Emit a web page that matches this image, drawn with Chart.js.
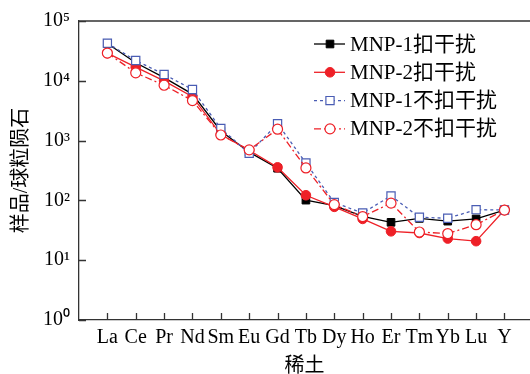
<!DOCTYPE html>
<html>
<head>
<meta charset="utf-8">
<script src="https://cdn.jsdelivr.net/npm/chart.js@4/dist/chart.umd.min.js"></script>
<style>
  html, body { margin: 0; padding: 0; background: #fff; }
  #wrap { width: 530px; height: 374px; }
</style>
</head>
<body>
<div id="wrap"><canvas id="c" width="530" height="374"></canvas></div>
<script>
// ---- data ----
const categories = ['La','Ce','Pr','Nd','Sm','Eu','Gd','Tb','Dy','Ho','Er','Tm','Yb','Lu','Y'];
const mnp1Sub   = [42000, 20000, 11300, 6000, 1450, 640, 345, 101, 82, 54, 43, 50, 45, 49, 69];
const mnp2Sub   = [29000, 16900, 9960, 5430, 1260, 690, 357, 122, 78, 49, 30.4, 28.5, 23, 20.8, 69];
const mnp1NoSub = [42600, 21800, 12800, 7160, 1590, 615, 1920, 421, 92, 61.6, 119, 52.3, 50.3, 70, 69];
const mnp2NoSub = [29100, 13600, 8430, 4670, 1240, 700, 1550, 349, 85, 53.7, 90, 29.6, 27.9, 39.2, 69];
const seriesNames = ['MNP-1扣干扰', 'MNP-2扣干扰', 'MNP-1不扣干扰', 'MNP-2不扣干扰'];
const yTickValues = [1, 10, 100, 1000, 10000, 100000];
const yTitle = '样品/球粒陨石';
const xTitle = '稀土';

const FONT = "'Liberation Serif', 'Noto Sans CJK SC', serif";
const RED = '#ee2027';
const BLUE = '#4a5db4';
const AXIS = '#333333';
const sup = {0:'⁰',1:'¹',2:'²',3:'³',4:'⁴',5:'⁵'};

function pts(arr) { return arr.map((v, i) => ({ x: i + 1, y: v })); }

const datasets = [
  { label: seriesNames[0], data: pts(mnp1Sub), borderColor: '#000', backgroundColor: '#000',
    pointStyle: 'rect', pointRadius: 5.4, borderWidth: 1.3, pointBorderWidth: 1, order: 4 },
  { label: seriesNames[1], data: pts(mnp2Sub), borderColor: RED, backgroundColor: RED,
    pointStyle: 'circle', pointRadius: 4.8, borderWidth: 1.3, pointBorderWidth: 1, order: 3 },
  { label: seriesNames[2], data: pts(mnp1NoSub), borderColor: BLUE, backgroundColor: '#fff',
    pointStyle: 'rect', pointRadius: 5.8, borderWidth: 1.3, pointBorderWidth: 1.2, borderDash: [3, 3], order: 2 },
  { label: seriesNames[3], data: pts(mnp2NoSub), borderColor: RED, backgroundColor: '#fff',
    pointStyle: 'circle', pointRadius: 5, borderWidth: 1.3, pointBorderWidth: 1.2, borderDash: [7, 3, 2, 3], order: 1 }
];

// inward tick marks + top frame line
const frame = {
  id: 'frame',
  afterDraw(chart) {
    const ctx = chart.ctx, a = chart.chartArea;
    const xs = chart.scales.x, ys = chart.scales.y;
    ctx.save();
    ctx.strokeStyle = AXIS; ctx.lineWidth = 1.3; ctx.setLineDash([]);
    ctx.beginPath();
    ctx.moveTo(a.left, a.top); ctx.lineTo(chart.width, a.top);
    xs.ticks.forEach(t => {
      const px = Math.round(xs.getPixelForValue(t.value)) + 0.5;
      ctx.moveTo(px, a.bottom); ctx.lineTo(px, a.bottom - 7);
    });
    ys.ticks.forEach(t => {
      const py = Math.round(ys.getPixelForValue(t.value)) + 0.5;
      ctx.moveTo(a.left, py); ctx.lineTo(a.left + 7, py);
    });
    ctx.stroke();
    ctx.restore();
  }
};

// legend inside the plot, top right
const legendBox = {
  id: 'legendBox',
  afterDraw(chart) {
    const ctx = chart.ctx;
    const x0 = 314, x1 = 345, xm = 330, tx = 350, y0 = 44, dy = 28.3;
    chart.data.datasets.forEach((ds, i) => {
      const y = y0 + i * dy;
      ctx.save();
      ctx.strokeStyle = ds.borderColor; ctx.lineWidth = ds.borderWidth;
      ctx.setLineDash(ds.borderDash || []);
      ctx.beginPath(); ctx.moveTo(x0, y); ctx.lineTo(x1, y); ctx.stroke();
      ctx.setLineDash([]);
      ctx.fillStyle = ds.backgroundColor; ctx.lineWidth = ds.pointBorderWidth;
      Chart.helpers.drawPoint(ctx, { pointStyle: ds.pointStyle, radius: ds.pointRadius, rotation: 0, borderWidth: ds.pointBorderWidth }, xm, y);
      ctx.fillStyle = '#000';
      ctx.font = "21px " + FONT;
      ctx.textBaseline = 'middle'; ctx.textAlign = 'left';
      ctx.fillText(ds.label, tx, y + 1);
      ctx.restore();
    });
  }
};

new Chart(document.getElementById('c'), {
  type: 'line',
  data: { datasets },
  plugins: [frame, legendBox],
  options: {
    responsive: false,
    animation: false,
    layout: { padding: { top: 18, right: 0, left: 0, bottom: 0 }, autoPadding: false },
    plugins: { legend: { display: false }, tooltip: { enabled: false } },
    scales: {
      x: {
        type: 'linear', min: 0, max: 15.9,
        afterBuildTicks: s => { s.ticks = categories.map((c, i) => ({ value: i + 1 })); },
        afterFit: s => { s.height = 54; },
        grid: { display: true, drawOnChartArea: false, drawTicks: false },
        border: { display: true, color: AXIS, width: 1.3 },
        ticks: { color: '#000', padding: 6, maxRotation: 0, autoSkip: false,
          font: { family: FONT, size: 20 },
          callback: v => categories[v - 1] },
        title: { display: true, text: xTitle, color: '#000',
          font: { family: FONT, size: 20, lineHeight: 1 }, padding: { top: 0, bottom: -3 } }
      },
      y: {
        type: 'logarithmic', min: 1, max: 100000,
        afterBuildTicks: s => { s.ticks = yTickValues.map(v => ({ value: v })); },
        afterFit: s => { s.width = 79; },
        grid: { display: true, drawOnChartArea: false, drawTicks: false },
        border: { display: true, color: AXIS, width: 1.3 },
        ticks: { color: '#000', padding: 9, autoSkip: false,
          font: { family: FONT, size: 20 },
          callback: v => '10' + sup[Math.round(Math.log10(v))] },
        title: { display: true, text: yTitle, color: '#000',
          font: { family: FONT, size: 20, lineHeight: 1.2 }, padding: { top: 10, bottom: 0 } }
      }
    }
  }
});
</script>
</body>
</html>
